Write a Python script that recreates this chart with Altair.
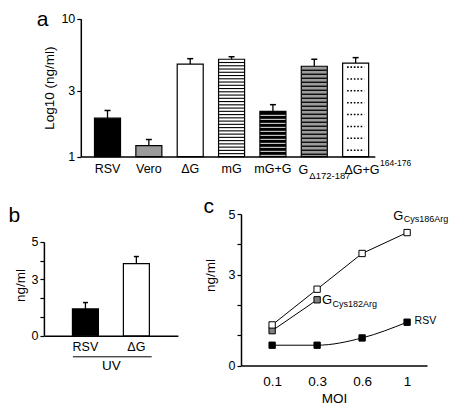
import altair as alt
import pandas as pd
import numpy as np

FONT = "Liberation Sans"

# ---------------- data ----------------
# panel a (log scale)
a_cats = ["RSV", "Vero", "ΔG", "mG", "mG+G", "G", "ΔG+G"]
a_vals = [1.90, 1.20, 4.69, 5.08, 2.13, 4.52, 4.77]
a_errs = [2.16, 1.33, 5.13, 5.30, 2.38, 5.08, 5.22]
a_fill = ["#000000", "#9b9b9b", "#ffffff", "#ffffff", "#000000", "#9b9b9b", "#ffffff"]
a_ticks = [1, 3, 10]
a_sub = "Δ172-187"
a_sup = "164-176"

# panel b
b_cats = ["RSV", "ΔG"]
b_vals = [1.43, 3.84]
b_errs = [1.77, 4.22]
b_fill = ["#000000", "#ffffff"]

# panel c
c_moi = ["0.1", "0.3", "0.6", "1"]
c_rsv = [0.67, 0.67, 0.91, 1.43]
c_g182 = [1.15, 2.17]
c_g186 = [1.34, 2.52, 3.70, 4.39]
lin_ticks = [0, 1, 2, 3, 4, 5]

# ---------------- layout (pixels inside the single view) ----------------
W, H = 442, 393
A_X = [72.8, 366.8]
A_Y = [145.6, 7.7]
B_X = [35.9, 169.9]
B_Y = [324.8, 230.9]
C_X = [233.0, 419.0]
C_Y = [354.5, 203.1]

one = pd.DataFrame({"v": [0]})
lin_label = "datum.value == 0 || datum.value == 3 || datum.value == 5 ? datum.label : ''"


def letter(txt, x, y):
    return alt.Chart(one).mark_text(align="left", baseline="alphabetic", fontSize=21,
                                    font=FONT, color="black").encode(
        x=alt.value(x), y=alt.value(y), text=alt.value(txt))


# ---------------- panel a ----------------
a_df = pd.DataFrame({"cat": a_cats, "value": a_vals, "err": a_errs, "fill": a_fill})
a_df["base"] = 1.0

a_scale_x = alt.Scale(domain=a_cats, range=A_X, paddingInner=0.371, paddingOuter=0.24, align=0.69)
a_axis_x = alt.Axis(orient="bottom", offset=A_Y[0] - H, title=None, ticks=False, labelAngle=0,
                    labelPadding=6, labelFontSize=12.5,
                    labelExpr="datum.value == 'G' || datum.value == 'ΔG+G' ? '' : datum.label")
a_scale_y = alt.Scale(type="log", domain=[1, 10], nice=False, range=A_Y)
a_axis_y = alt.Axis(orient="left", offset=-A_X[0], values=a_ticks, format="d", title="Log10 (ng/ml)",
                    titleX=-31, titleY=(A_Y[0] + A_Y[1]) / 2, titleBaseline="middle", titleFontSize=13.5,
                    labelFontSize=12.5, tickSize=4, labelPadding=2, labelOverlap=False)


def xa(bp=None):
    if bp is None:
        return alt.X("cat:N", scale=a_scale_x, axis=a_axis_x)
    return alt.X("cat:N", scale=a_scale_x, axis=a_axis_x, bandPosition=bp)


def ya(field="value"):
    return alt.Y(f"{field}:Q", scale=a_scale_y, axis=a_axis_y)


def stripes(cat, top, step):
    lt = np.log10(top)
    k = np.arange(1, int(lt / step) + 1)
    vals = 10 ** (lt - k * step)
    vals = vals[np.log10(vals) > 0.008]
    return pd.DataFrame({"cat": cat, "value": vals})


top = dict(zip(a_cats, a_vals))
s_mg = stripes("mG", top["mG"], 0.0236)
s_mgg = stripes("mG+G", top["mG+G"], 0.029)
s_gd = stripes("G", top["G"], 0.029)
dots = pd.DataFrame({"cat": "ΔG+G", "value": [10 ** (0.0465 + k * 0.0861) for k in range(8)]})

a_bars = alt.Chart(a_df).mark_bar(stroke="black", strokeWidth=1.2).encode(
    x=xa(), y=ya(), y2="base:Q", fill=alt.Fill("fill:N", scale=None))
a_st1 = alt.Chart(s_mg).mark_tick(color="black", thickness=1.1, size=25, opacity=1).encode(x=xa(), y=ya())
a_st2 = alt.Chart(s_mgg).mark_tick(color="white", thickness=0.9, size=25, opacity=1).encode(x=xa(), y=ya())
a_st3 = alt.Chart(s_gd).mark_tick(color="black", thickness=1.3, size=25, opacity=1).encode(x=xa(), y=ya())
a_dots = alt.Chart(dots).mark_rule(color="black", strokeWidth=1.6, strokeDash=[1.6, 1.8]).encode(
    x=xa(0.17), x2=alt.X2("cat:N", bandPosition=0.83), y=ya())
a_err = alt.Chart(a_df).mark_rule(color="black", strokeWidth=1.3).encode(x=xa(), y=ya(), y2="err:Q")
a_cap = alt.Chart(a_df).mark_tick(color="black", thickness=1.5, size=6, opacity=1).encode(x=xa(), y=ya("err"))

g_df = a_df[a_df["cat"] == "G"]
d_df = a_df[a_df["cat"] == "ΔG+G"]
lab_y = A_Y[0] + 13.3
a_g = alt.Chart(g_df).mark_text(align="left", baseline="middle", fontSize=12.5, dx=-15.7, font=FONT,
                                color="black").encode(x=xa(), y=alt.value(lab_y), text="cat:N")
a_gsub = alt.Chart(g_df).mark_text(align="left", baseline="middle", fontSize=9.5, dx=-5, font=FONT,
                                   color="black").encode(x=xa(), y=alt.value(lab_y + 6.5), text=alt.value(a_sub))
a_d = alt.Chart(d_df).mark_text(align="left", baseline="middle", fontSize=12.5, dx=-11.2, font=FONT,
                                color="black").encode(x=xa(), y=alt.value(lab_y), text="cat:N")
a_dsup = alt.Chart(d_df).mark_text(align="left", baseline="middle", fontSize=8.5, dx=24.4, font=FONT,
                                   color="black").encode(x=xa(), y=alt.value(lab_y - 6.5), text=alt.value(a_sup))

A = alt.layer(a_bars, a_st1, a_st2, a_st3, a_dots, a_err, a_cap, a_g, a_gsub, a_d, a_dsup)

# ---------------- panel b ----------------
b_df = pd.DataFrame({"cat": b_cats, "value": b_vals, "err": b_errs, "fill": b_fill})
b_scale_x = alt.Scale(domain=b_cats, range=B_X, paddingInner=0.49, paddingOuter=0.56)
b_axis_x = alt.Axis(orient="bottom", offset=B_Y[0] - H, title="UV", ticks=False, labelAngle=0,
                    labelPadding=5, labelFontSize=12.5, titleFontSize=13.5, titlePadding=5)
b_scale_y = alt.Scale(domain=[0, 5], nice=False, range=B_Y)
b_axis_y = alt.Axis(orient="left", offset=-B_X[0], values=lin_ticks, labelExpr=lin_label, title="ng/ml",
                    titleX=-23, titleY=B_Y[1] + 43, titleBaseline="middle", titleFontSize=13.5,
                    labelFontSize=12.5, tickSize=4, labelPadding=2, labelOverlap=False)


def xb():
    return alt.X("cat:N", scale=b_scale_x, axis=b_axis_x)


def yb(field="value"):
    return alt.Y(f"{field}:Q", scale=b_scale_y, axis=b_axis_y)


b_bars = alt.Chart(b_df).mark_bar(stroke="black", strokeWidth=1.2).encode(
    x=xb(), y=yb(), fill=alt.Fill("fill:N", scale=None))
b_err = alt.Chart(b_df).mark_rule(color="black", strokeWidth=1.3).encode(x=xb(), y=yb(), y2="err:Q")
b_cap = alt.Chart(b_df).mark_tick(color="black", thickness=1.5, size=5, opacity=1).encode(x=xb(), y=yb("err"))

B = alt.layer(b_bars, b_err, b_cap)

b_line = alt.Chart(one).mark_rule(color="black", strokeWidth=1).encode(
    x=alt.value(B_X[0] + 29), x2=alt.value(B_X[0] + 107.8), y=alt.value(B_Y[0] + 21))

# ---------------- panel c ----------------
rows = []
for m, v in zip(c_moi, c_rsv):
    rows.append({"moi": m, "value": v, "series": "RSV", "fill": "#000000"})
for m, v in zip(c_moi, c_g182):
    rows.append({"moi": m, "value": v, "series": "G182", "fill": "#808080"})
for m, v in zip(c_moi, c_g186):
    rows.append({"moi": m, "value": v, "series": "G186", "fill": "#ffffff"})
c_df = pd.DataFrame(rows)

c_scale_x = alt.Scale(type="point", domain=c_moi, range=C_X, padding=0.567, align=0.61)
c_axis_x = alt.Axis(orient="bottom", offset=C_Y[0] - H, title="MOI", ticks=False, labelAngle=0,
                    labelPadding=9, labelFontSize=13.5, titleFontSize=13.5, titlePadding=3)
c_scale_y = alt.Scale(domain=[0, 5], nice=False, range=C_Y)
c_axis_y = alt.Axis(orient="left", offset=-C_X[0], values=lin_ticks, labelExpr=lin_label, title="ng/ml",
                    titleX=-31, titleY=C_Y[1] + 61, titleBaseline="middle", titleFontSize=13.5,
                    labelFontSize=12.5, tickSize=4, labelPadding=2, labelOverlap=False)


def xc():
    return alt.X("moi:O", scale=c_scale_x, axis=c_axis_x)


def yc():
    return alt.Y("value:Q", scale=c_scale_y, axis=c_axis_y)


c_rsv_df = c_df[c_df["series"] == "RSV"]
c_oth_df = c_df[c_df["series"] != "RSV"]
c_l1 = alt.Chart(c_rsv_df).mark_line(color="black", strokeWidth=1, interpolate="monotone").encode(x=xc(), y=yc())
c_l2 = alt.Chart(c_oth_df).mark_line(color="black", strokeWidth=1).encode(x=xc(), y=yc(), detail="series:N")
c_pts = alt.Chart(c_df).mark_point(shape="square", filled=True, size=40, stroke="black", strokeWidth=1,
                                   opacity=1).encode(x=xc(), y=yc(), fill=alt.Fill("fill:N", scale=None))

last186 = c_df[(c_df["series"] == "G186") & (c_df["moi"] == "1")]
last182 = c_df[(c_df["series"] == "G182") & (c_df["moi"] == "0.3")]
lastrsv = c_df[(c_df["series"] == "RSV") & (c_df["moi"] == "1")]


def ctext(df, txt, size, dx, dy):
    return alt.Chart(df).mark_text(align="left", baseline="middle", fontSize=size, dx=dx, dy=dy,
                                   font=FONT, color="black").encode(x=xc(), y=yc(), text=alt.value(txt))


C = alt.layer(
    c_l1, c_l2, c_pts,
    ctext(last186, "G", 13, -13.9, -16.6), ctext(last186, "Cys186Arg", 9, -3.3, -13.7),
    ctext(last182, "G", 13, 4.9, 0), ctext(last182, "Cys182Arg", 9, 15.3, 4.5),
    ctext(lastrsv, "RSV", 10.5, 7.5, -1),
)

chart = alt.layer(
    A, B, C, b_line,
    letter("a", 28.8, 14.7), letter("b", 0.5, 211), letter("c", 195.5, 201.5),
).resolve_scale(x="independent", y="independent").resolve_axis(
    x="independent", y="independent"
).properties(width=W, height=H, padding=0).configure_view(stroke=None).configure_axis(
    labelFont=FONT, titleFont=FONT, labelColor="black", titleColor="black",
    domainColor="black", tickColor="black", grid=False, titleFontWeight="normal",
    domainWidth=1.5, tickWidth=1.2
).configure_text(font=FONT)

chart.save("out.html", embed_options={"renderer": "svg", "actions": False})
